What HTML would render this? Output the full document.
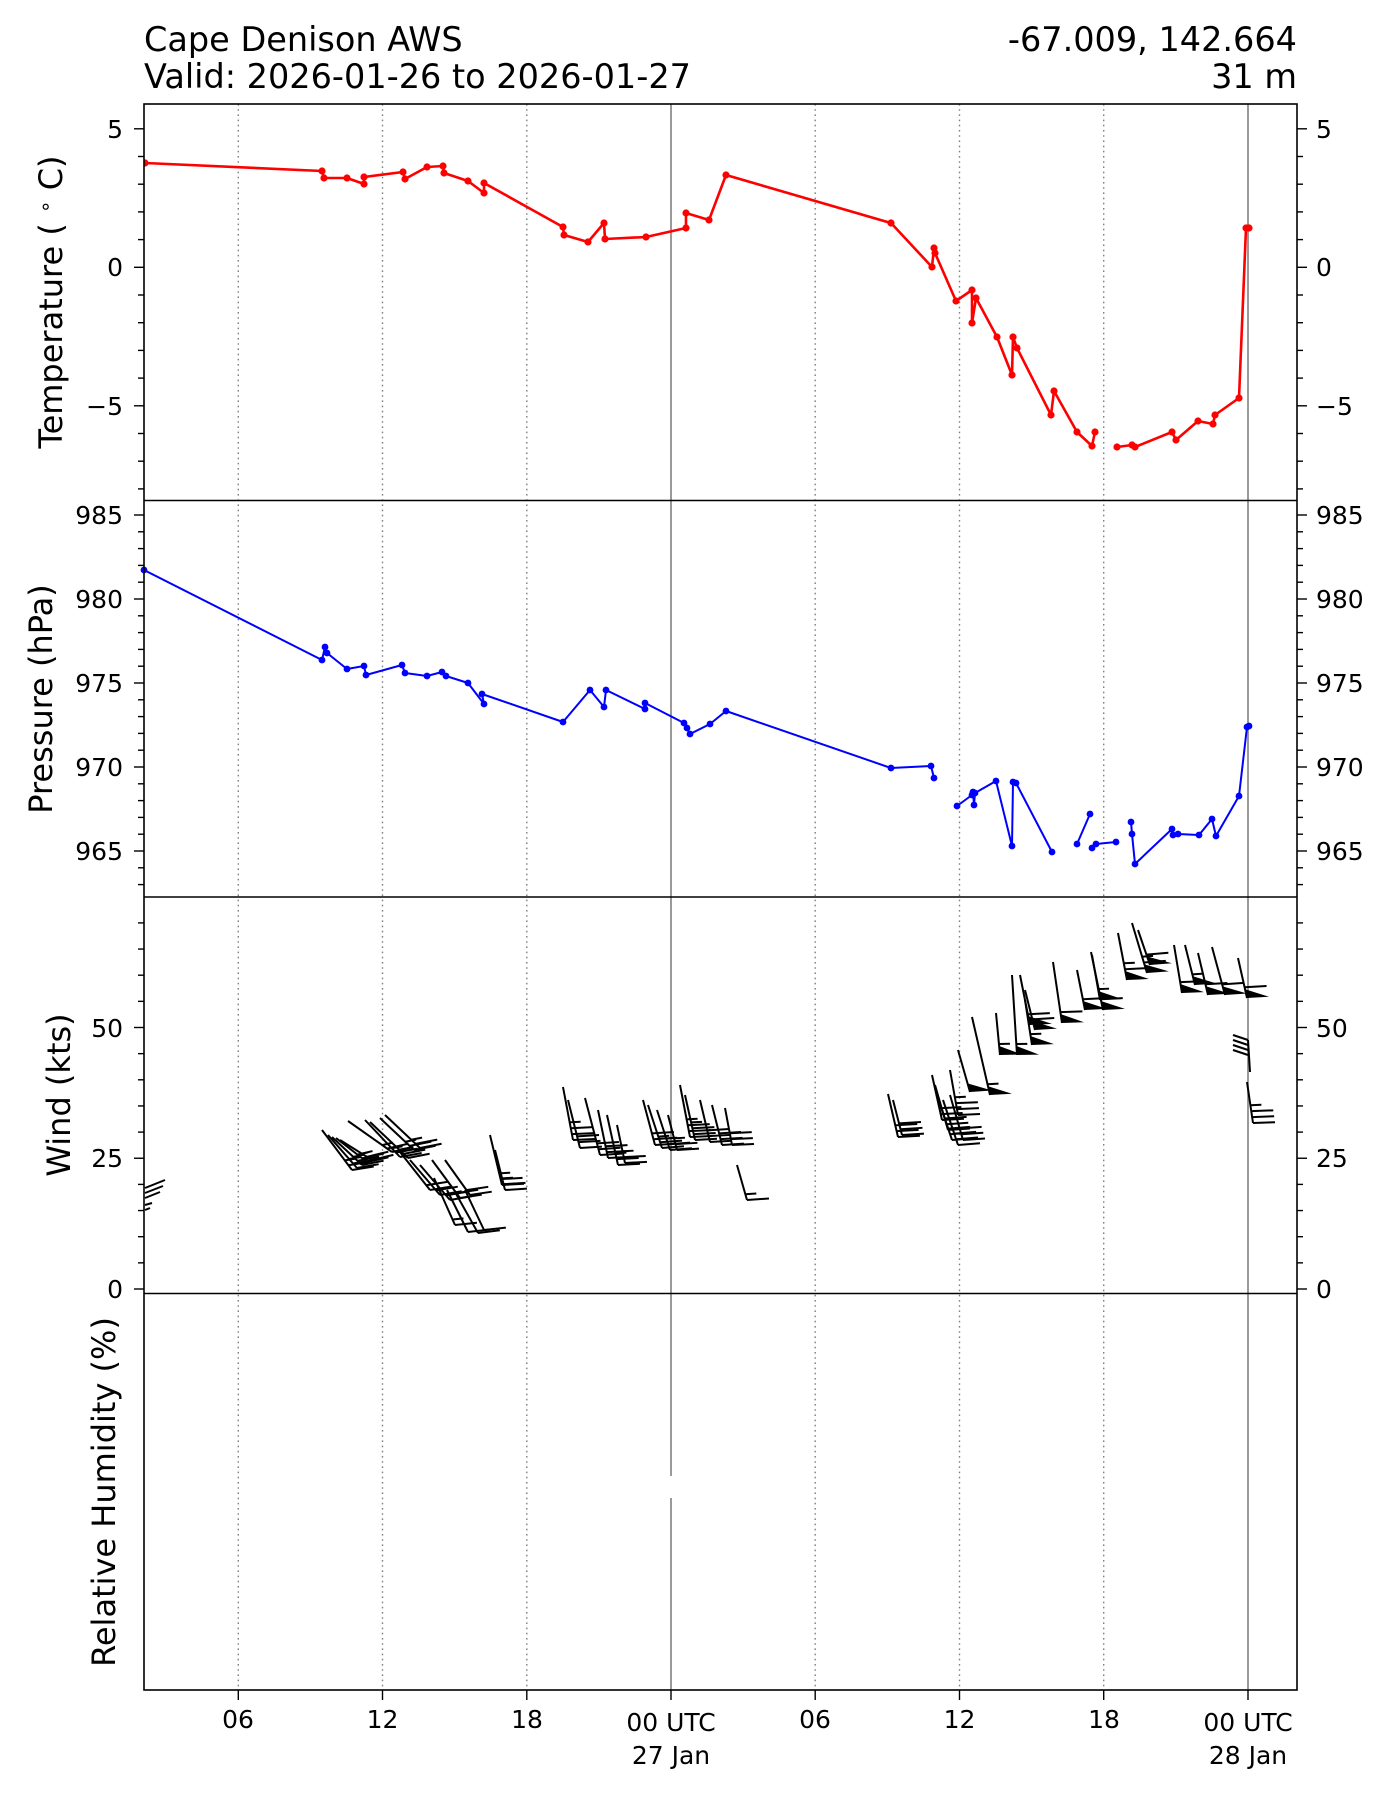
<!DOCTYPE html>
<html><head><meta charset="utf-8">
<style>
html,body{margin:0;padding:0;background:#fff;}
svg{display:block;}
text{font-family:"DejaVu Sans","Liberation Sans",sans-serif;fill:#000;}
.tk{font-size:25px;}
.lb{font-size:32px;}
.tt{font-size:33.5px;}
</style></head>
<body>
<svg id="s" width="1400" height="1800" viewBox="0 0 1400 1800" xmlns="http://www.w3.org/2000/svg">
<defs>
<clipPath id="cw"><rect x="144" y="897" width="1153" height="396.5"/></clipPath>
<clipPath id="ct"><rect x="144" y="104" width="1153" height="396.5"/></clipPath>
<clipPath id="cp"><rect x="144" y="500.5" width="1153" height="396.5"/></clipPath>
</defs>
<rect width="1400" height="1800" fill="#fff"/>
<g id="grid"></g>
<rect x="669" y="1476" width="4" height="22" fill="#fff"/>

<g clip-path="url(#ct)">
<polyline id="tl1" fill="none" stroke="#f00" stroke-width="2.6" stroke-linejoin="round" points="145,163 322,171 324,178 347,178 364,184 364,177 403,172 405,179 427,167 443,166 444,173 468,181 484,193 484,183 563,227 564,235 588,242 604,223 605,239 646,237 686,228 686,213 709,220 726,175 891,223 932,267 934,248 935,253 956,301 972,290 972,323 976,298 997,337 1012,375 1013,337 1017,348 1051,415 1054,391 1077,432 1092,446 1095,432"/>
<polyline id="tl2" fill="none" stroke="#f00" stroke-width="2.6" stroke-linejoin="round" points="1117,447 1132,445 1135,447 1172,432 1176,440 1198,421 1213,424 1215,415 1239,398 1246,228 1249,228"/>
<g id="tm" fill="#f00"></g>
</g>

<g clip-path="url(#cp)" fill="none" stroke="#00f" stroke-width="2" stroke-linejoin="round">
<polyline class="pl" points="144,570 322,660 325,647 327,653 347,669 364,666 366,675 402,665 405,673 427,676 442,672 446,676 468,683 484,704 482,694 563,722 590,690 604,707 606,690 645,709 645,703 684,723 687,728 690,734 710,724 726,711 891,768 931,766 934,778"/>
<polyline class="pl" points="957,806 972,795 973,792 974,805 975,793 996,781 1012,846 1013,782 1016,783 1052,852"/>
<polyline class="pl" points="1077,844 1090,814"/>
<polyline class="pl" points="1092,848 1096,844 1116,842"/>
<polyline class="pl" points="1131,822 1132,834 1135,864 1172,829 1173,835 1178,834 1199,835 1212,819 1216,836 1239,796 1247,727 1249,726"/>
</g>
<g id="pm" fill="#00f"></g>

<g id="wind" clip-path="url(#cw)" stroke="#000" stroke-width="2" fill="#000"></g>

<g fill="none" stroke="#000" stroke-width="1.6">
<rect x="144" y="104" width="1153" height="1586"/>
<line x1="144" y1="500.5" x2="1297" y2="500.5"/>
<line x1="144" y1="897" x2="1297" y2="897"/>
<line x1="144" y1="1293.5" x2="1297" y2="1293.5"/>
</g>
<g id="ticks" stroke="#000" stroke-width="1.4"></g>

<text class="tt" x="144" y="51">Cape Denison AWS</text>
<text class="tt" x="144" y="88">Valid: 2026-01-26 to 2026-01-27</text>
<text class="tt" x="1297" y="51" text-anchor="end">-67.009, 142.664</text>
<text class="tt" x="1297" y="88" text-anchor="end">31 m</text>

<text class="lb" text-anchor="middle" transform="translate(62,302) rotate(-90)">Temperature ( <tspan font-size="20" dy="-10">∘</tspan><tspan dy="10"> C)</tspan></text>
<text class="lb" text-anchor="middle" transform="translate(52,699) rotate(-90)">Pressure (hPa)</text>
<text class="lb" text-anchor="middle" transform="translate(70,1095) rotate(-90)">Wind (kts)</text>
<text class="lb" text-anchor="middle" transform="translate(115,1492) rotate(-90)">Relative Humidity (%)</text>

<g class="tk" text-anchor="end">
<text x="123" y="138">5</text>
<text x="123" y="276">0</text>
<text x="123" y="415">−5</text>
<text x="123" y="524">985</text>
<text x="123" y="608">980</text>
<text x="123" y="692">975</text>
<text x="123" y="776">970</text>
<text x="123" y="860">965</text>
<text x="123" y="1037">50</text>
<text x="123" y="1167">25</text>
<text x="123" y="1298">0</text>
</g>
<g class="tk" text-anchor="start">
<text x="1316" y="138">5</text>
<text x="1316" y="276">0</text>
<text x="1316" y="415">−5</text>
<text x="1316" y="524">985</text>
<text x="1316" y="608">980</text>
<text x="1316" y="692">975</text>
<text x="1316" y="776">970</text>
<text x="1316" y="860">965</text>
<text x="1316" y="1037">50</text>
<text x="1316" y="1167">25</text>
<text x="1316" y="1298">0</text>
</g>
<g class="tk" text-anchor="middle">
<text x="238" y="1728">06</text>
<text x="382.5" y="1728">12</text>
<text x="527" y="1728">18</text>
<text x="671" y="1731">00 UTC</text>
<text x="671" y="1764">27 Jan</text>
<text x="815" y="1728">06</text>
<text x="959.5" y="1728">12</text>
<text x="1104" y="1728">18</text>
<text x="1248" y="1731">00 UTC</text>
<text x="1248" y="1764">28 Jan</text>
</g>
</svg>
<script>
(function(){
var NS="http://www.w3.org/2000/svg";
function el(parent,tag,attrs){var e=document.createElementNS(NS,tag);for(var k in attrs)e.setAttribute(k,attrs[k]);parent.appendChild(e);return e;}
var grid=document.getElementById('grid');
[238.3,382.5,526.8,815.2,959.5,1103.7].forEach(function(x){
 el(grid,'line',{x1:x,y1:104,x2:x,y2:1690,stroke:'#808080','stroke-width':1.4,'stroke-dasharray':'1.6,3.6'});
});
[671,1248].forEach(function(x){el(grid,'line',{x1:x,y1:104,x2:x,y2:1690,stroke:'#808080','stroke-width':1.6});});
var tk=document.getElementById('ticks');
function yt(y,len){el(tk,'line',{x1:144-len,y1:y,x2:144,y2:y});el(tk,'line',{x1:1297,y1:y,x2:1297+len,y2:y});}
for(var T=-8;T<=5;T++){yt(267.3-27.7*T,(T%5==0)?10:6);}
for(var P=963;P<=985;P++){yt(515+(985-P)*16.8,(P%5==0)?10:6);}
for(var W=0;W<=70;W+=5){yt(1289-5.23*W,(W%25==0)?10:6);}
[238.3,382.5,526.8,671,815.2,959.5,1103.7,1248].forEach(function(x){el(tk,'line',{x1:x,y1:1690,x2:x,y2:1700});});
function marks(sel,g,r){document.querySelectorAll(sel).forEach(function(pl){pl.getAttribute('points').trim().split(/\s+/).forEach(function(p){var a=p.split(',');el(g,'circle',{cx:a[0],cy:a[1],r:r});});});}
marks('#tl1,#tl2',document.getElementById('tm'),3.6);
marks('.pl',document.getElementById('pm'),3.4);
var w=document.getElementById('wind');
function barb(bx,by,tx,ty,spd){
 el(w,'line',{x1:bx,y1:by,x2:tx,y2:ty});
 var dx=tx-bx,dy=ty-by,L=Math.hypot(dx,dy),ux=dx/L,uy=dy/L;
 var px=0.75+0.25*(-uy),py=0.25*ux,pl=Math.hypot(px,py);px/=pl;py/=pl;
 var len=22;
 var fl=Math.floor(spd/50),rem=spd-fl*50,full=Math.floor(rem/10),half=(rem%10)>=5?1:0,s=0;
 for(var i=0;i<fl;i++){var x0=bx+ux*s,y0=by+uy*s,x1=bx+ux*(s+9),y1=by+uy*(s+9);
   el(w,'polygon',{points:x0+','+y0+' '+(x0+px*len)+','+(y0+py*len)+' '+x1+','+y1,stroke:'none'});s+=11;}
 for(var j=0;j<full;j++){var x=bx+ux*s,y=by+uy*s;el(w,'line',{x1:x,y1:y,x2:x+px*len,y2:y+py*len});s+=6;}
 if(half){if(s==0)s=6;var x=bx+ux*s,y=by+uy*s;el(w,'line',{x1:x,y1:y,x2:x+px*len/2,y2:y+py*len/2});}
}
var B=[
[352,1170,322,1130,25],[357,1168,328,1135,25],[362,1165,332,1137,25],[367,1162,336,1138,25],[372,1160,340,1140,25],
[392,1152,348,1121,28],[400,1157,365,1120,28],[408,1158,370,1122,28],[414,1150,380,1118,28],[420,1148,385,1115,28],
[430,1190,400,1152,22],[440,1195,410,1160,22],[450,1200,420,1165,22],[460,1198,432,1160,22],[470,1195,445,1160,20],
[455,1225,434,1178,15],[468,1232,447,1190,13],[478,1233,455,1192,13],[484,1230,465,1190,14],
[502,1185,490,1135,25],[505,1190,495,1150,25],
[573,1140,563,1087,35],[580,1148,568,1100,33],[600,1155,585,1098,30],[608,1158,598,1110,30],[618,1165,607,1115,28],[625,1163,617,1125,27],
[655,1145,643,1100,30],[662,1148,648,1105,29],[670,1150,657,1110,28],[677,1150,668,1115,28],
[690,1137,680,1085,36],[695,1140,685,1095,35],[710,1142,700,1100,33],[722,1145,712,1105,32],[732,1145,725,1108,32],
[747,1200,737,1165,17],
[898,1137,888,1094,30],[902,1135,893,1100,30],
[942,1120,932,1075,33],[948,1130,935,1085,32],[952,1140,937,1095,31],[958,1145,943,1100,30],[963,1140,950,1095,31],[958,1115,950,1070,36],
[970,1092,958,1050,50],[990,1095,972,1017,55],
[1000,1055,996,1013,55],[1017,1055,1012,975,55],
[1030,1025,1020,975,60],[1035,1030,1025,990,60],[1032,1045,1025,1000,55],
[1062,1023,1053,962,60],[1085,1010,1077,970,60],[1103,1010,1091,952,60],[1100,1000,1092,955,58],
[1127,980,1118,933,65],[1147,973,1132,923,65],[1150,965,1138,930,62],
[1182,993,1174,945,60],[1195,985,1185,945,58],[1208,995,1198,953,60],[1225,995,1212,947,60],[1247,998,1238,958,60],
[1253,1123,1247,1082,35]
];
B.forEach(function(b){barb(b[0],b[1],b[2],b[3],b[4]);});
[[145,1188,165,1180],[145,1193,163,1186],[145,1198,160,1192],[145,1205,152,1203],[145,1210,150,1208],
 [1233,1035,1248,1040],[1233,1040,1248,1045],[1233,1045,1248,1050],[1233,1050,1248,1055],[1248,1040,1250,1072]
].forEach(function(l){el(w,'line',{x1:l[0],y1:l[1],x2:l[2],y2:l[3]});});
})();
</script>
</body></html>
